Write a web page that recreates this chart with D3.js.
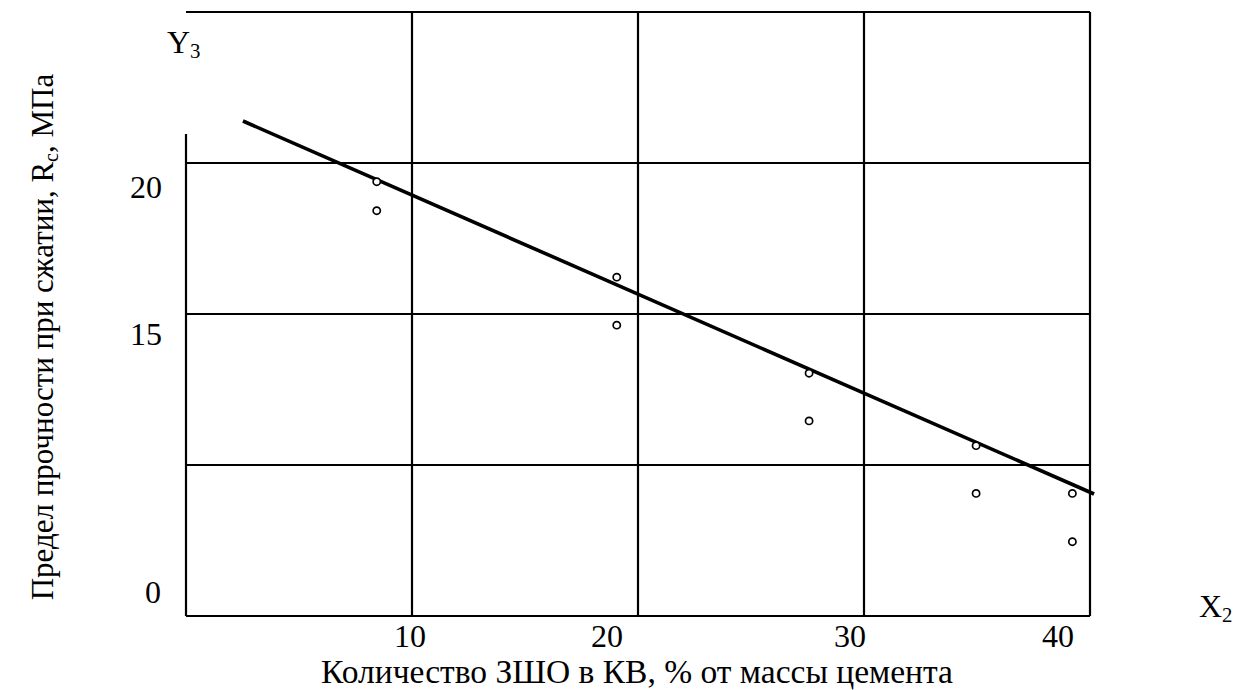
<!DOCTYPE html>
<html>
<head>
<meta charset="utf-8">
<script src="https://cdn.jsdelivr.net/npm/d3@7"></script>
<style>
  html, body { margin: 0; padding: 0; background: #fff; }
  svg { display: block; }
  text { font-family: "Liberation Serif", "Times New Roman", serif; fill: #000; }
</style>
</head>
<body>
<svg id="chart" width="1251" height="690"></svg>
<script>
// ---- data ----
const pointX = [8.44, 8.44, 19.06, 19.06, 27.57, 27.57, 34.96, 34.96, 39.22, 39.22];
const pointY = [19.38, 18.42, 16.22, 14.63, 13.04, 11.46, 10.64, 9.06, 9.06, 7.46];
const lineX = [2.52, 40.18];
const lineY = [21.39, 9.04];
const xTickValues = [10, 20, 30, 40];
const xTickLabels = ["10", "20", "30", "40"];
const yGridValues = [20, 15, 10];
const yTickValues = [20, 15, 5];
const yTickLabels = ["20", "15", "0"];
const xTitle = "Количество ЗШО в КВ, % от массы цемента";
const yTitleMain = "Предел прочности при сжатии, R";
const yTitleSub = "c";
const yTitleEnd = ", МПа";

// ---- layout ----
const svg = d3.select("#chart");
const pLeft = 186, pRight = 1090, pTop = 12, pBottom = 616;
const x = d3.scaleLinear().domain([0, 40]).range([pLeft, pRight]);
const y = d3.scaleLinear().domain([5, 25]).range([pBottom, pTop]);
const fs = 32;
const xLabelShift = [-2, -31, -14, -32];   // label placement as in the original figure
const yLabelShift = [35, 31, -13];

const g = svg.append("g");
const stroke = "#000";
const sw = 2.2;

// frame
g.append("line").attr("x1", pLeft).attr("x2", pRight).attr("y1", pTop).attr("y2", pTop)
  .attr("stroke", stroke).attr("stroke-width", sw);
g.append("line").attr("x1", pLeft).attr("x2", pRight).attr("y1", pBottom).attr("y2", pBottom)
  .attr("stroke", stroke).attr("stroke-width", sw);
g.append("line").attr("x1", pRight).attr("x2", pRight).attr("y1", pTop).attr("y2", pBottom)
  .attr("stroke", stroke).attr("stroke-width", sw);
g.append("line").attr("x1", pLeft).attr("x2", pLeft).attr("y1", y(20) - 29).attr("y2", pBottom)
  .attr("stroke", stroke).attr("stroke-width", sw);

// vertical grid
g.selectAll(".vg").data(xTickValues.filter(v => v < 40)).join("line")
  .attr("x1", d => x(d)).attr("x2", d => x(d)).attr("y1", pTop).attr("y2", pBottom)
  .attr("stroke", stroke).attr("stroke-width", sw);
// horizontal grid
g.selectAll(".hg").data(yGridValues).join("line")
  .attr("x1", pLeft).attr("x2", pRight).attr("y1", d => y(d)).attr("y2", d => y(d))
  .attr("stroke", stroke).attr("stroke-width", sw);

// regression line
const lineData = lineX.map((v, i) => [v, lineY[i]]);
g.append("path").datum(lineData)
  .attr("d", d3.line().x(d => x(d[0])).y(d => y(d[1])))
  .attr("fill", "none").attr("stroke", stroke).attr("stroke-width", 3.6);

// points
const pts = pointX.map((v, i) => [v, pointY[i]]);
g.selectAll(".pt").data(pts).join("circle")
  .attr("cx", d => x(d[0])).attr("cy", d => y(d[1])).attr("r", 3.6)
  .attr("fill", "#fff").attr("stroke", stroke).attr("stroke-width", 1.7);

// x tick labels
g.selectAll(".xl").data(xTickValues).join("text")
  .attr("x", (d, i) => x(d) + xLabelShift[i])
  .attr("y", pBottom + 31)
  .attr("text-anchor", "middle").attr("font-size", fs)
  .text((d, i) => xTickLabels[i]);

// y tick labels
g.selectAll(".yl").data(yTickValues).join("text")
  .attr("x", (d, i) => i === yTickValues.length - 1 ? 153 : 146)
  .attr("y", (d, i) => y(d) + yLabelShift[i])
  .attr("text-anchor", "middle").attr("font-size", fs)
  .text((d, i) => yTickLabels[i]);

// x title
g.append("text").attr("x", 637).attr("y", 683).attr("text-anchor", "middle")
  .attr("font-size", 33.5).text(xTitle);

// y title rotated
const yfs = 31;
const yt = g.append("text").attr("transform", "translate(53,337) rotate(-90)")
  .attr("text-anchor", "middle").attr("font-size", yfs);
yt.append("tspan").text(yTitleMain);
yt.append("tspan").attr("font-size", yfs * 0.65).attr("dy", 5).text(yTitleSub);
yt.append("tspan").attr("dy", -5).text(yTitleEnd);

// Y3 label
const y3 = g.append("text").attr("x", 167).attr("y", 53).attr("font-size", fs);
y3.append("tspan").text("Y");
y3.append("tspan").attr("font-size", fs * 0.65).attr("dy", 5).text("3");

// X2 label
const x2 = g.append("text").attr("x", 1199).attr("y", 617).attr("font-size", fs);
x2.append("tspan").text("X");
x2.append("tspan").attr("font-size", fs * 0.65).attr("dy", 5).text("2");
</script>
</body>
</html>
